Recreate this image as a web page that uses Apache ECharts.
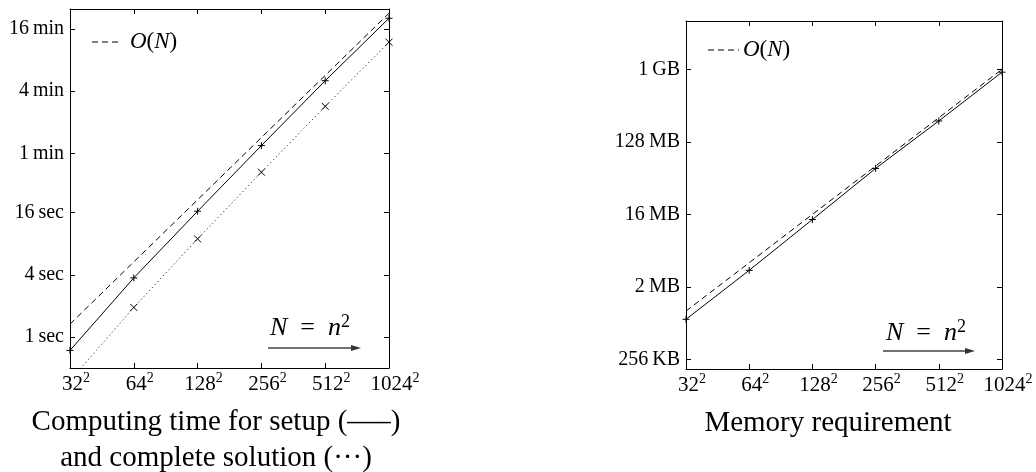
<!DOCTYPE html>
<html><head><meta charset="utf-8">
<script src="https://cdn.jsdelivr.net/npm/echarts@6/dist/echarts.min.js"></script>
<style>html,body{margin:0;padding:0;background:#fff}#c{width:1036px;height:472px}</style>
</head><body><div id="c"></div>
<script>
// ---- data ----
const nLabels = ['32','64','128','256','512','1024'];          // N = n^2
const NValues = [1024, 4096, 16384, 65536, 262144, 1048576];
const setupTime = [0.74, 3.73, 16.5, 71.3, 303, 1220];       // seconds
const solveTime = [0.377, 1.93, 8.91, 39.4, 171, 715];       // seconds
const timeLinear = [1.33, 5.33, 21.3, 85.3, 341, 1365];      // O(N) reference, seconds
const memory = [0.79, 3.22, 13.8, 59.8, 233, 944];           // MB
const memLinear = [1, 4, 16, 64, 256, 1024];                 // O(N) reference, MB
const timeTicks = [1, 4, 16, 60, 240, 960];
const timeTickLabels = ['1\u2009sec','4\u2009sec','16\u2009sec','1\u2009min','4\u2009min','16\u2009min'];
const memTicks = [0.25, 2, 16, 128, 1024];
const memTickLabels = ['256\u2009KB','2\u2009MB','16\u2009MB','128\u2009MB','1\u2009GB'];

const FONT = 'Liberation Serif';
const pair = arr => NValues.map((n, i) => [n, arr[i]]);
function lookup(ticks, labels, v) {
  let best = 0, bd = Infinity;
  ticks.forEach((t, i) => { const d = Math.abs(Math.log(t) - Math.log(v)); if (d < bd) { bd = d; best = i; } });
  return labels[best];
}
function nameOf(v) {
  let best = 0, bd = Infinity;
  NValues.forEach((t, i) => { const d = Math.abs(Math.log(t) - Math.log(v)); if (d < bd) { bd = d; best = i; } });
  return nLabels[best];
}
const xRich = {
  b: { fontFamily: FONT, fontSize: 21, lineHeight: 26, color: '#000', verticalAlign: 'middle' },
  s: { fontFamily: FONT, fontSize: 14, lineHeight: 14, color: '#000', verticalAlign: 'top' }
};
function xAxis(grid, pos, show) {
  return {
    type: 'log', logBase: 4, gridIndex: grid, position: pos, min: 1024, max: 1048576,
    axisLine: { show: true, onZero: false, lineStyle: { color: '#000', width: 1 } },
    axisTick: { show: true, inside: true, length: 5, lineStyle: { color: '#000' } },
    splitLine: { show: false }, minorTick: { show: false },
    axisLabel: {
      show: show, margin: 3, padding: [0, 0, 0, 12], rich: xRich,
      formatter: v => '{b|' + nameOf(v) + '}{s|2}'
    }
  };
}
function yAxis(grid, pos, show, min, max, ticks, labels) {
  return {
    type: 'log', gridIndex: grid, position: pos, min: min, max: max,
    axisLine: { show: true, onZero: false, lineStyle: { color: '#000', width: 1 } },
    axisTick: { show: true, inside: true, length: 5, customValues: ticks, lineStyle: { color: '#000' } },
    splitLine: { show: false }, minorTick: { show: false },
    axisLabel: {
      show: show, margin: 6, customValues: ticks, color: '#000', fontFamily: FONT, fontSize: 20,
      formatter: v => lookup(ticks, labels, v)
    }
  };
}
const plus = 'path://M0,5L10,5M5,0L5,10';
const cross = 'path://M0,0L10,10M10,0L0,10';
const mk = { color: '#000', borderColor: '#000', borderWidth: 1 };

function arrowGroup(x1, x2, y) {
  return [
    { type: 'line', shape: { x1: x1, y1: y, x2: x2 - 6, y2: y }, style: { stroke: '#444', lineWidth: 1.6 } },
    { type: 'polygon', shape: { points: [[x2, y], [x2 - 10, y - 3], [x2 - 10, y + 3]] }, style: { fill: '#333' } }
  ];
}
function nLabel(x, y) {
  return { type: 'text', x: x, y: y, style: {
    text: '{i|N}{r|\u2002=\u2002}{i|n}{s|2}', textVerticalAlign: 'middle',
    rich: {
      i: { fontFamily: FONT, fontStyle: 'italic', fontSize: 26, lineHeight: 30, color: '#000', verticalAlign: 'middle' },
      r: { fontFamily: FONT, fontSize: 26, lineHeight: 30, color: '#000', verticalAlign: 'middle' },
      s: { fontFamily: FONT, fontSize: 18, lineHeight: 18, color: '#000', verticalAlign: 'top' }
    } } };
}
function legend(x1, x2, tx, y) {
  return [
    { type: 'line', shape: { x1: x1, y1: y, x2: x2, y2: y }, style: { stroke: '#000', lineWidth: 1, lineDash: [6, 4] } },
    { type: 'text', x: tx, y: y, style: {
      text: '{o|O}{p|(}{i|N}{p|)}', textVerticalAlign: 'middle',
      rich: {
        o: { fontFamily: FONT, fontStyle: 'italic', fontSize: 23, color: '#000' },
        p: { fontFamily: FONT, fontSize: 23, color: '#000' },
        i: { fontFamily: FONT, fontStyle: 'italic', fontSize: 23, color: '#000' }
      } } }
  ];
}
const titleStyle = { fontFamily: FONT, fontSize: 29, fill: '#000', textAlign: 'center', textVerticalAlign: 'middle' };

const chart = echarts.init(document.getElementById('c'), null, { renderer: 'canvas' });
chart.setOption({
  backgroundColor: '#fff',
  animation: false,
  grid: [
    { left: 70, top: 9, width: 319, height: 359 },
    { left: 686, top: 21, width: 316, height: 348 }
  ],
  xAxis: [xAxis(0, 'bottom', true), xAxis(0, 'top', false), xAxis(1, 'bottom', true), xAxis(1, 'top', false)],
  yAxis: [
    yAxis(0, 'left', true, 0.5, 1500, timeTicks, timeTickLabels),
    yAxis(0, 'right', false, 0.5, 1500, timeTicks, timeTickLabels),
    yAxis(1, 'left', true, 0.19, 4096, memTicks, memTickLabels),
    yAxis(1, 'right', false, 0.19, 4096, memTicks, memTickLabels)
  ],
  series: [
    { name: 'O(N) time', type: 'line', xAxisIndex: 0, yAxisIndex: 0, data: pair(timeLinear), showSymbol: false,
      lineStyle: { color: '#000', width: 1, type: [6, 4] }, clip: true },
    { name: 'setup', type: 'line', xAxisIndex: 0, yAxisIndex: 0, data: pair(setupTime), symbol: plus, symbolSize: 7,
      itemStyle: mk, lineStyle: { color: '#000', width: 1 }, clip: true },
    { name: 'complete solution', type: 'line', xAxisIndex: 0, yAxisIndex: 0, data: pair(solveTime), symbol: cross, symbolSize: 7,
      itemStyle: mk, lineStyle: { color: '#000', width: 1, type: [1, 3] }, clip: true },
    { name: 'O(N) memory', type: 'line', xAxisIndex: 2, yAxisIndex: 2, data: pair(memLinear), showSymbol: false,
      lineStyle: { color: '#000', width: 1, type: [6, 4] }, clip: true },
    { name: 'memory', type: 'line', xAxisIndex: 2, yAxisIndex: 2, data: pair(memory), symbol: plus, symbolSize: 7,
      itemStyle: mk, lineStyle: { color: '#000', width: 1 }, clip: true }
  ],
  graphic: [
    ...legend(92, 118, 130, 42),
    ...legend(708, 739, 743, 50),
    nLabel(270, 328),
    ...arrowGroup(268, 361, 348),
    nLabel(886, 333),
    ...arrowGroup(883, 975, 351),
    { type: 'text', x: 216, y: 422, style: Object.assign({ text: 'Computing time for setup (\u2014\u2013)' }, titleStyle) },
    { type: 'text', x: 216, y: 458, style: Object.assign({ text: 'and complete solution (\u00b7\u00b7\u00b7)' }, titleStyle) },
    { type: 'text', x: 828, y: 423, style: Object.assign({ text: 'Memory requirement' }, titleStyle) }
  ]
});
</script></body></html>
